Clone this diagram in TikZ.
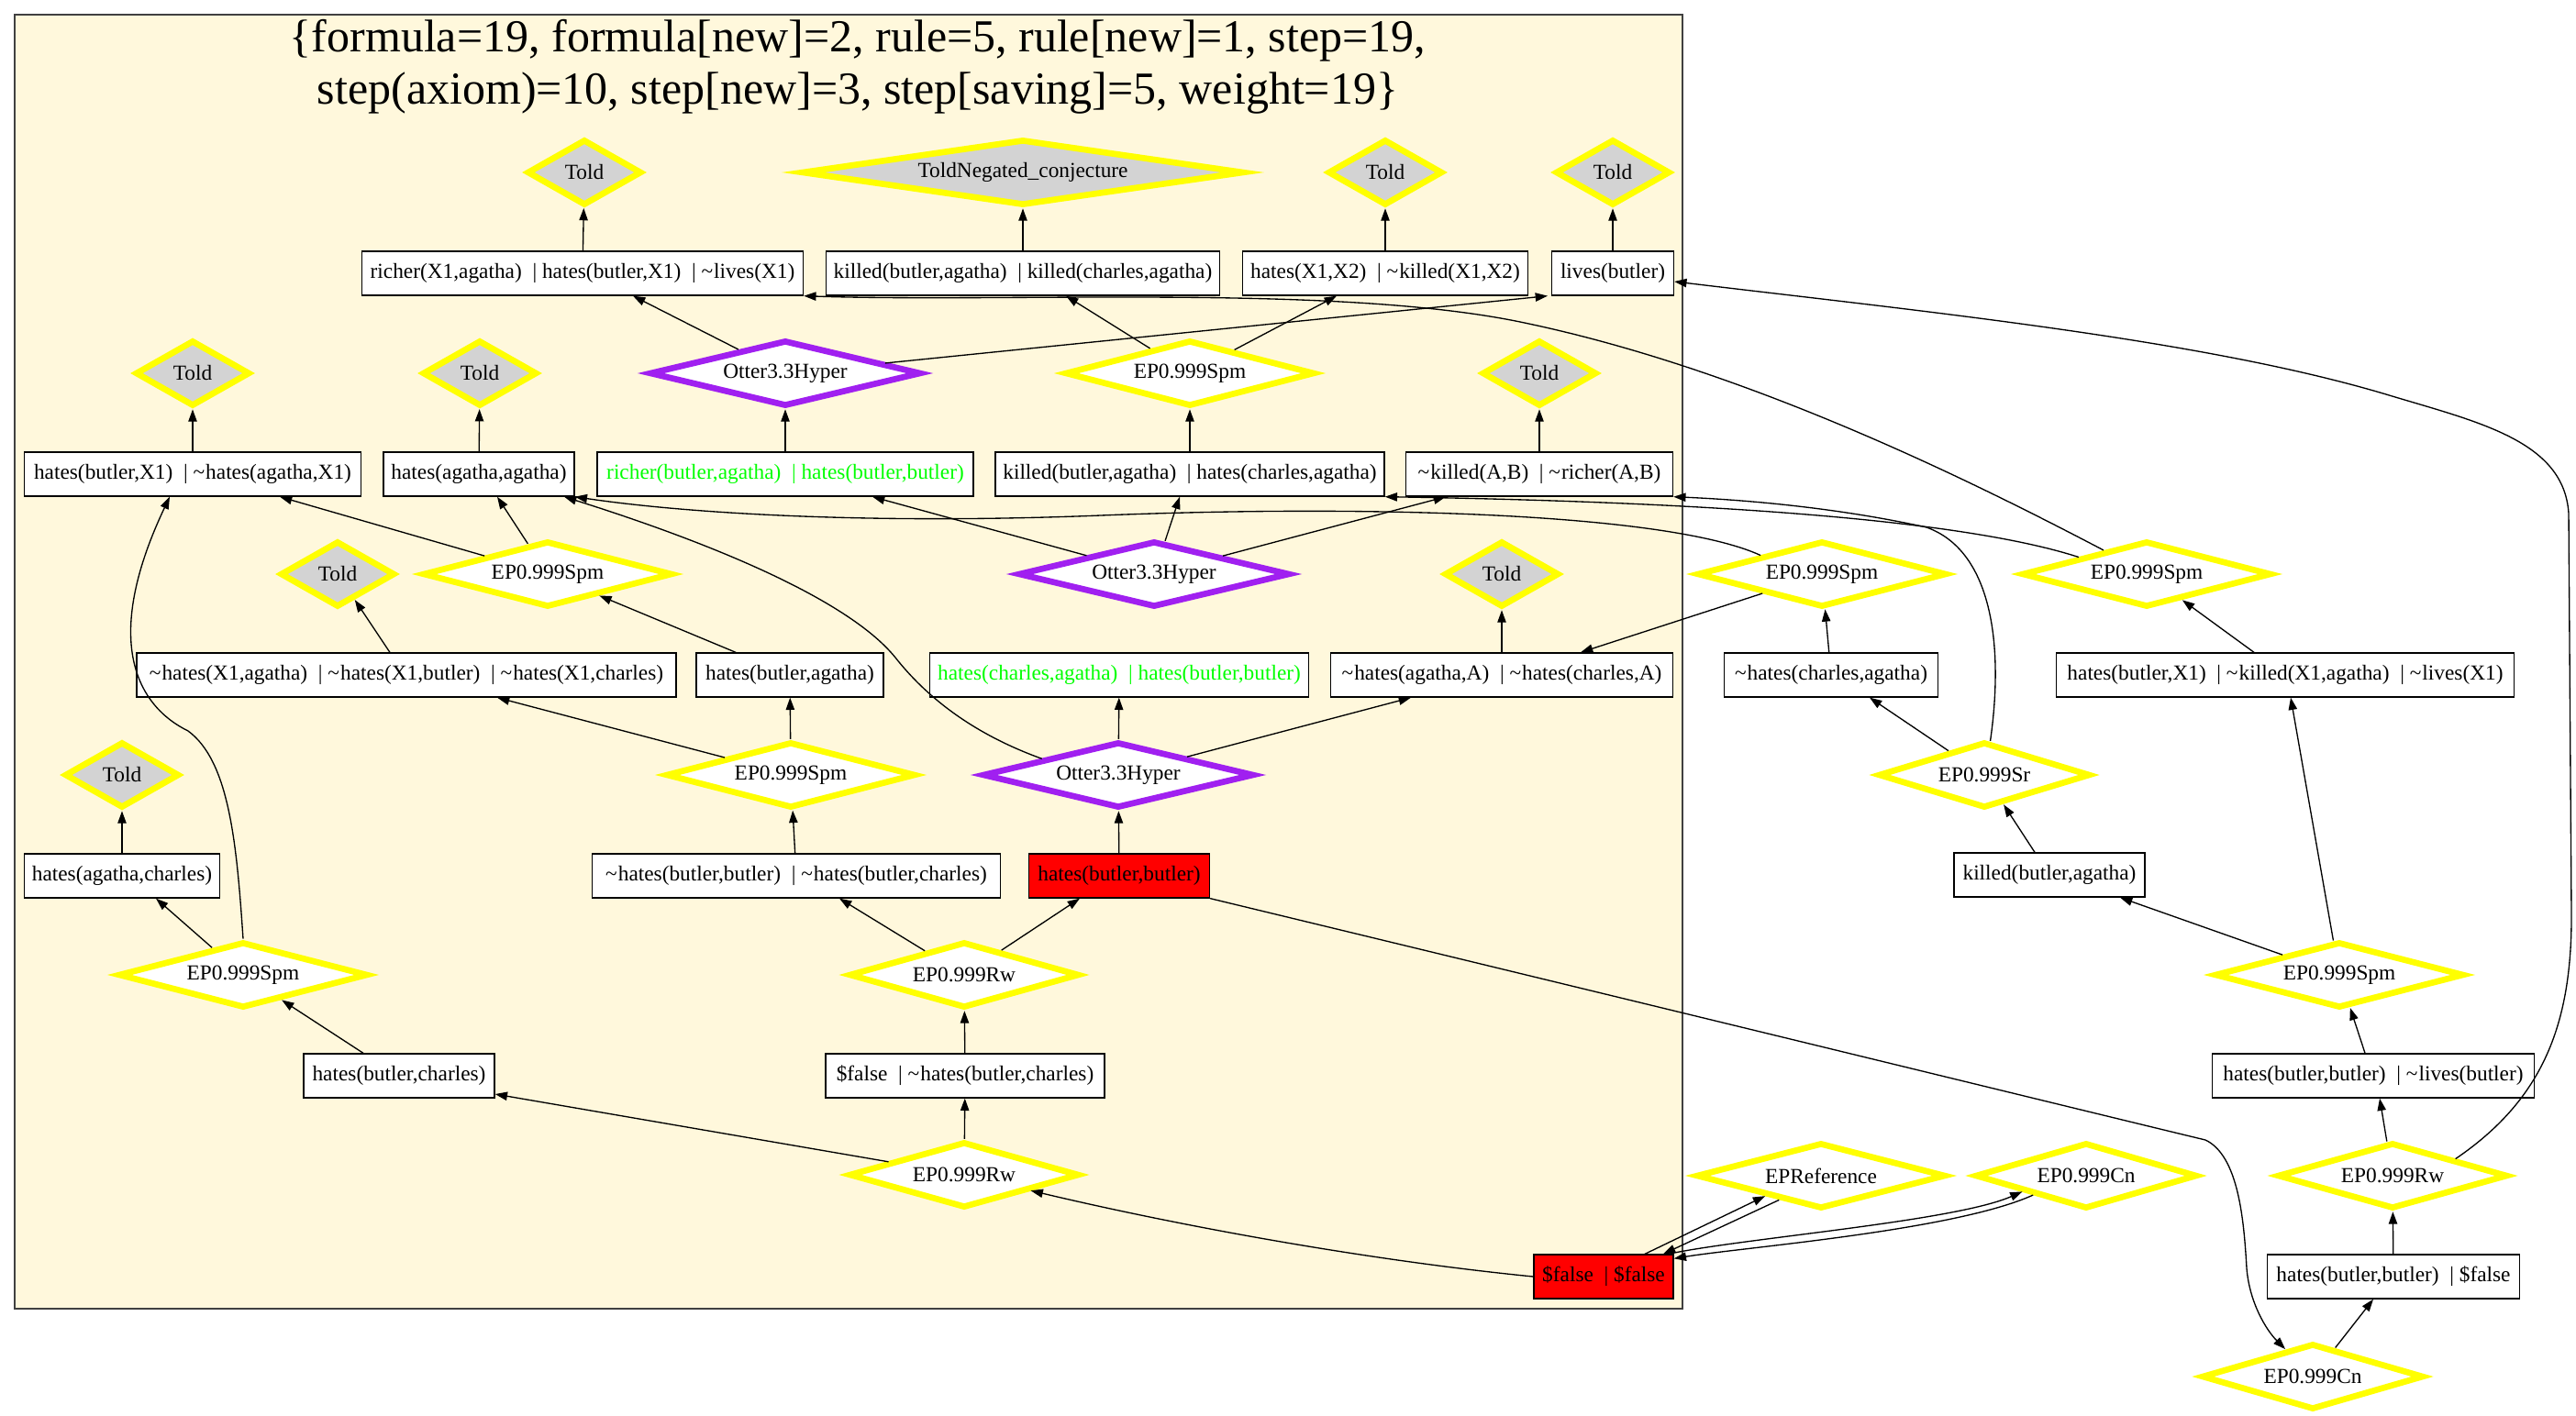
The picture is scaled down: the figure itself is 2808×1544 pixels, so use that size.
\documentclass[tikz,border=0pt]{standalone}
\usepackage{fontspec}
\setmainfont{Liberation Serif}
\usetikzlibrary{shapes.geometric,arrows.meta,calc}
\definecolor{cornsilk}{HTML}{FFF8DC}
\definecolor{xpurple}{HTML}{A020F0}
\definecolor{toldgray}{HTML}{D3D3D3}
\definecolor{xyellow}{RGB}{255,255,0}
\definecolor{xgreen}{RGB}{0,255,0}
\definecolor{xred}{RGB}{255,0,0}
\newcommand{\Sep}{\ \ |\ }
\newcommand{\Neg}{\textasciitilde\kern0.8pt}
\begin{document}
\begin{tikzpicture}[x=0.75pt,y=-0.75pt,
  every node/.style={font=\fontsize{17.5}{21}\selectfont},
  cl/.style={draw=black, fill=white, line width=1pt, minimum height=36pt, minimum width=#1*0.75pt, inner xsep=1pt, inner ysep=0pt},
  told/.style={diamond, draw=xyellow, fill=toldgray, line width=5pt, minimum width=93.75pt, minimum height=54pt, shape aspect=1.74, inner sep=0pt},
  yd/.style 2 args={diamond, draw=xyellow, fill=white, line width=5pt, minimum width=#1*0.75pt, minimum height=54pt, shape aspect=#2, inner sep=0pt},
  pd/.style={diamond, draw=xpurple, fill=white, line width=5pt, minimum width=222pt, minimum height=54pt, shape aspect=4.11, inner sep=0pt},
  spm/.style={yd={272}{3.78}},
  rw/.style={yd={251}{3.49}},
  cn/.style={yd={242}{3.36}},
  link/.style={-{Triangle[length=10pt,width=7pt]}, line width=1pt, line join=round}
]
\useasboundingbox (0,0) rectangle (2808,1544);
\fill[white] (0,0) rectangle (2808,1544);
% proof cluster
\draw[line width=1pt, draw=black!75, fill=cornsilk] (16,16) rectangle (1834,1427);
\node[font=\fontsize{37.5}{43}\selectfont, align=center] (title) at (935,73)
  {\{formula=19, formula[new]=2, rule=5, rule[new]=1, step=19,\\ step(axiom)=10, step[new]=3, step[saving]=5, weight=19\}};

% row 1
\node[told] (t1) at (637,188) {Told};
\node[yd={482}{6.69}, fill=toldgray] (tnc) at (1115,188) {ToldNegated\_conjecture};
\node[told] (t2) at (1510,188) {Told};
\node[told] (t3) at (1758,188) {Told};
% row 2
\node[cl=481] (crich) at (635,298) {richer(X1,agatha)\Sep hates(butler,X1)\Sep\Neg lives(X1)};
\node[cl=429] (ckill1) at (1115,298) {killed(butler,agatha)\Sep killed(charles,agatha)};
\node[cl=311] (chx) at (1510,298) {hates(X1,X2)\Sep\Neg killed(X1,X2)};
\node[cl=133] (clives) at (1758,298) {lives(butler)};
% row 3
\node[told] (t4) at (210,407) {Told};
\node[told] (t5) at (523,407) {Told};
\node[pd] (h1) at (856,407) {Otter3.3Hyper};
\node[spm] (s1) at (1297,407) {EP0.999Spm};
\node[told] (t6) at (1678,407) {Told};
% row 4
\node[cl=367] (chbx) at (210,517) {hates(butler,X1)\Sep\Neg hates(agatha,X1)};
\node[cl=208] (chaa) at (522,517) {hates(agatha,agatha)};
\node[cl=410, text=xgreen] (cg1) at (856,517) {richer(butler,agatha)\Sep hates(butler,butler)};
\node[cl=424] (ckill2) at (1297,517) {killed(butler,agatha)\Sep hates(charles,agatha)};
\node[cl=291] (ckr) at (1678,517) {\Neg killed(A,B)\Sep\Neg richer(A,B)};
% row 5
\node[told] (t7) at (368,626) {Told};
\node[spm] (s2) at (597,626) {EP0.999Spm};
\node[pd] (h2) at (1258,626) {Otter3.3Hyper};
\node[told] (t8) at (1637,626) {Told};
\node[spm] (s3) at (1986,626) {EP0.999Spm};
\node[spm] (s4) at (2340,626) {EP0.999Spm};
% row 6
\node[cl=588] (chx3) at (443,736) {\Neg hates(X1,agatha)\Sep\Neg hates(X1,butler)\Sep\Neg hates(X1,charles)};
\node[cl=204] (chba) at (861,736) {hates(butler,agatha)};
\node[cl=413, text=xgreen] (cg2) at (1220,736) {hates(charles,agatha)\Sep hates(butler,butler)};
\node[cl=373] (chac) at (1637,736) {\Neg hates(agatha,A)\Sep\Neg hates(charles,A)};
\node[cl=233] (chca) at (1996,736) {\Neg hates(charles,agatha)};
\node[cl=499] (chbk) at (2491,736) {hates(butler,X1)\Sep\Neg killed(X1,agatha)\Sep\Neg lives(X1)};
% row 7
\node[told] (t9) at (133,845) {Told};
\node[spm] (s5) at (862,845) {EP0.999Spm};
\node[pd] (h3) at (1219,845) {Otter3.3Hyper};
\node[yd={231}{3.21}] (sr) at (2163,845) {EP0.999Sr};
% row 8
\node[cl=213] (chagc) at (133,955) {hates(agatha,charles)};
\node[cl=445] (cnbb) at (868,955) {\Neg hates(butler,butler)\Sep\Neg hates(butler,charles)};
\node[cl=197, fill=xred] (cred) at (1220,955) {hates(butler,butler)};
\node[cl=208] (ckba) at (2234,954) {killed(butler,agatha)};
% row 9
\node[spm] (s6) at (265,1063) {EP0.999Spm};
\node[rw] (r1) at (1051,1063) {EP0.999Rw};
\node[spm] (s7) at (2550,1063) {EP0.999Spm};
% row 10
\node[cl=208] (chbc) at (435,1173) {hates(butler,charles)};
\node[cl=304] (cfhbc) at (1052,1173) {\$false\Sep\Neg hates(butler,charles)};
\node[cl=351] (chbbl) at (2587,1173) {hates(butler,butler)\Sep\Neg lives(butler)};
% row 11
\node[rw] (r2) at (1051,1281) {EP0.999Rw};
\node[spm] (eref) at (1985,1282) {EPReference};
\node[cn] (cn1) at (2274,1282) {EP0.999Cn};
\node[rw] (r3) at (2608,1282) {EP0.999Rw};
% row 12
\node[cl=152, fill=xred] (cff) at (1748,1392) {\$false\Sep\$false};
\node[cl=275] (chbbf) at (2609,1392) {hates(butler,butler)\Sep\$false};
% row 13
\node[cn] (cn2) at (2521,1501) {EP0.999Cn};

% derivation links
\draw[link] (crich) -- (t1);
\draw[link] (ckill1) -- (tnc);
\draw[link] (chx) -- (t2);
\draw[link] (clives) -- (t3);
\draw[link] (h1) -- ([shift={(55,0)}]crich.south);
\draw[link] (h1) -- ([shift={(-71,0)}]clives.south);
\draw[link] (s1) -- ([shift={(47,0)}]ckill1.south);
\draw[link] (s1) -- ([shift={(-53,0)}]chx.south);
\draw[link] (s4.151) .. controls (2150,525) and (1900,400) .. (1652,350) .. controls (1450,310) and (1100,330) .. (crich.south east);

\draw[link] (cg1) -- (h1);
\draw[link] (ckill2) -- (s1);
\draw[link] (chbx) -- (t4);
\draw[link] (chaa) -- (t5);
\draw[link] (ckr) -- (t6);
\draw[link] (h2) -- ([shift={(95,0)}]cg1.south);
\draw[link] (h2) -- ([shift={(-11,0)}]ckill2.south);
\draw[link] (h2) -- ([shift={(-102,0)}]ckr.south);
\draw[link] (s2) -- ([shift={(95,0)}]chbx.south);
\draw[link] (s2) -- ([shift={(20,0)}]chaa.south);
\draw[link] (s3.163) .. controls (1820,560) and (1500,550) .. (1200,562) .. controls (950,572) and (750,560) .. (chaa.south east);
\draw[link] (s3) -- ([shift={(86,0)}]chac.north);
\draw[link] (chca) -- (s3);
\draw[link] (chac) -- (t8);
\draw[link] (s4.166) .. controls (2150,570) and (1900,548) .. (ckill2.south east);
\draw[link] (sr.80) .. controls (2185,700) and (2170,600) .. (2100,575) .. controls (2000,553) and (1900,545) .. (ckr.south east);
\draw[link] ([shift={(-34,0)}]chbk.north) -- (s4);
\draw[link] (s7) -- ([shift={(77,0)}]ckba.south);
\draw[link] (s7) -- ([shift={(6,0)}]chbk.south);
\draw[link] ([shift={(-9,0)}]chbbl.north) -- (s7);
\draw[link] ([shift={(-16,0)}]ckba.north) -- (sr);
\draw[link] (sr) -- ([shift={(42,0)}]chca.south);

\draw[link] ([shift={(-18,0)}]chx3.north) -- (t7);
\draw[link] ([shift={(-59,0)}]chba.north) -- (s2);
\draw[link] (s5) -- ([shift={(99,0)}]chx3.south);
\draw[link] (s5) -- (chba);
\draw[link] (h3) -- (cg2);
\draw[link] (h3) -- ([shift={(-99,0)}]chac.south);
\draw[link] (h3.168) .. controls (1060,800) and (1010,760) .. (976,717) .. controls (930,660) and (800,600) .. ([shift={(93,0)}]chaa.south);
\draw[link] (cnbb) -- (s5);
\draw[link] (cred) -- (h3);
\draw[link] (r1) -- ([shift={(47,0)}]cnbb.south);
\draw[link] (r1) -- ([shift={(-43,0)}]cred.south);
\draw[link] (cfhbc) -- (r1);
\draw[link] (r2) -- (cfhbc);
\draw[link] (r2) -- ([shift={(0,20)}]chbc.east);
\draw[link] ([shift={(-39,0)}]chbc.north) -- (s6);
\draw[link] (s6) -- ([shift={(37,0)}]chagc.south);
\draw[link] (s6.north) .. controls (258,920) and (250,830) .. (205,797) .. controls (150,770) and (110,700) .. ([shift={(-25,0)}]chbx.south);
\draw[link] (chagc) -- (t9);
\draw[link] (cff.west) .. controls (1500,1375) and (1300,1340) .. (r2);

\draw[link] (cred.south east) .. controls (1900,1120) and (2300,1218) .. (2404,1243) .. controls (2440,1260) and (2446,1330) .. (2449,1383) .. controls (2452,1420) and (2470,1450) .. (cn2);
\draw[link] (cn2) -- ([shift={(-22,0)}]chbbf.south);
\draw[link] (chbbf) -- (r3);
\draw[link] (r3) -- ([shift={(7,0)}]chbbl.south);
\draw[link] (r3.15) .. controls (2770,1200) and (2803,1120) .. (2803,1000) -- (2800,560) .. controls (2795,480) and (2700,460) .. (2601,430) .. controls (2400,370) and (2100,340) .. ([shift={(0,9)}]clives.east);

\draw[link] ([shift={(45,0)}]cff.north) -- (eref.200);
\draw[link] (eref.210) -- ([shift={(65,0)}]cff.north);
\draw[link] ([shift={(-6,0)}]cff.north east) .. controls (1900,1350) and (2130,1332) .. (cn1.194);
\draw[link] (cn1.200) .. controls (2130,1342) and (1900,1360) .. ([shift={(0,5)}]cff.north east);
\end{tikzpicture}
\end{document}
